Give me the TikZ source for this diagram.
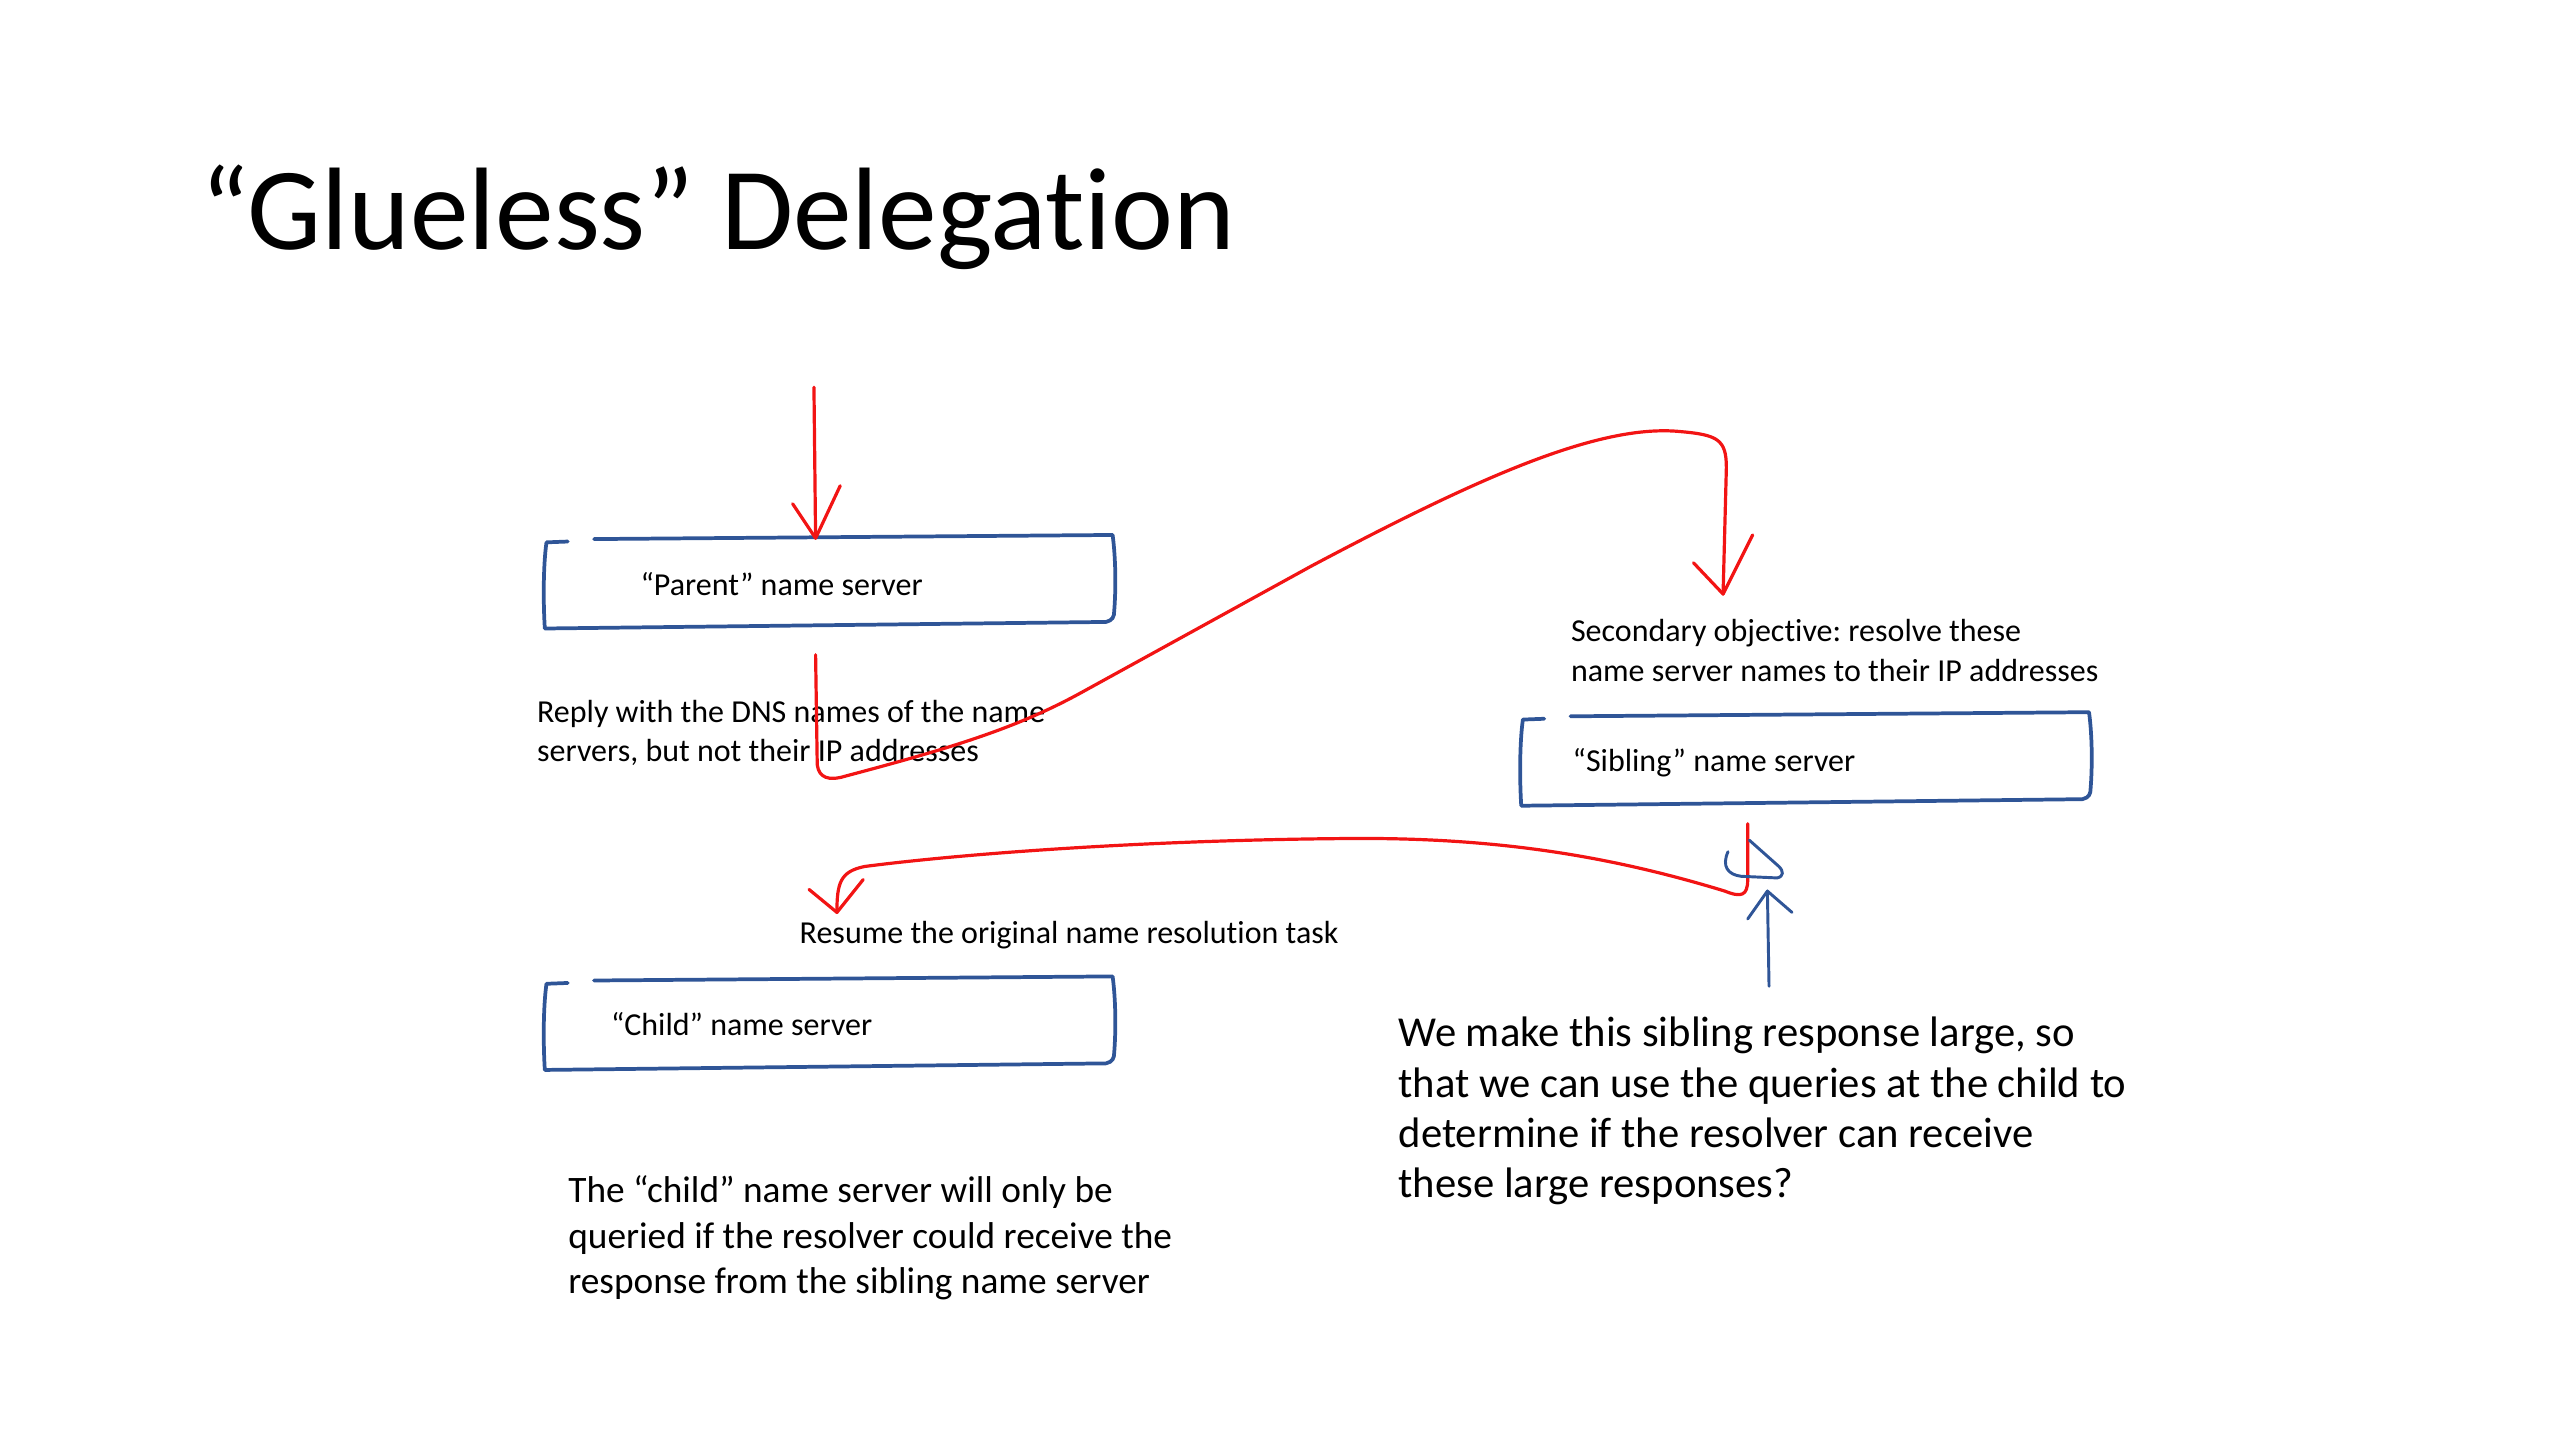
\documentclass[tikz,border=0pt]{standalone}
\usepackage{fontspec}
\setmainfont{Carlito}[Ligatures={NoCommon}]
\frenchspacing
\definecolor{penblue}{HTML}{2F5597}
\definecolor{penred}{HTML}{F21414}
\tikzset{
  boxpen/.style={draw=penblue, line width=1.4pt, line cap=round, line join=round},
  redpen/.style={draw=penred, line width=1.2pt, line cap=round, line join=round},
  bluepen/.style={draw=penblue, line width=1.1pt, line cap=round, line join=round},
  txt/.style={anchor=base west, inner sep=0pt, align=left, text=black},
  ttl/.style={txt, font={\fontsize{44}{53}\selectfont}},
  sm/.style={txt, font={\fontsize{12}{14.77}\selectfont}},
  md/.style={txt, font={\fontsize{14}{16.9}\selectfont}},
  lg/.style={txt, font={\fontsize{16}{18.9}\selectfont}},
  srvbox/.pic={
    \draw[boxpen] (15,3) -- (2,3.5) .. controls (0,18) and (0,40) .. (1,56)
      -- (343,52) .. controls (347,51) and (348,49) .. (348,45)
      .. controls (349,32) and (349,14) .. (347,-1) -- (31,1.5);
  }
}
\begin{document}
\begin{tikzpicture}[x=0.615385pt, y=-0.615385pt]
\useasboundingbox (0,0) rectangle (1560,877.5);

% title
\node[ttl] (title) at (122,152) {“Glueless” Delegation};

% boxes
\pic at (331,327) {srvbox};
\pic at (331,596) {srvbox};
\pic at (926,435) {srvbox};

% texts (multi-line nodes are placed by their last baseline)
\node[sm] (parent) at (390,363) {“Parent” name server};
\node[sm] (sibling) at (958,470) {“Sibling” name server};
\node[sm] (child) at (372,631) {“Child” name server};
\node[sm] (reply) at (327,464) {Reply with the DNS names of the name\\servers, but not their IP addresses};
\node[sm] (second) at (957,415) {Secondary objective: resolve these\\name server names to their IP addresses};
\node[sm] (resume) at (487,575) {Resume the original name resolution task};
\node[md] (only) at (346,788) {The “child” name server will only be\\queried if the resolver could receive the\\response from the sibling name server};
\node[lg] (large) at (852,730) {We make this sibling response large, so\\that we can use the queries at the child to\\determine if the resolver can receive\\these large responses?};

% coordinates for hand-drawn connectors
\coordinate (q0) at (496,236);
\coordinate (q1) at (497,328);
\coordinate (r0) at (497,399);
\coordinate (r1) at (1050,362);
\coordinate (s0) at (1065,502);
\coordinate (s1) at (510,556);
\coordinate (b0) at (1078,601);
\coordinate (b1) at (1077,543);

% query into parent
\draw[redpen] (q0) -- (q1);
\draw[redpen] (483,307) -- (q1) -- (512,296);

% reply -> sibling
\draw[redpen] (r0) -- (498,466) .. controls (499,474) and (505,476) .. (515,473)
  .. controls (579,456) and (619,444) .. (659,422)
  -- (799,345) .. controls (899,292) and (974,258) .. (1024,263)
  .. controls (1047,265) and (1052,268) .. (1052,285) -- (r1);
\draw[redpen] (1032,343) -- (r1) -- (1068,326);

% sibling -> child (resume)
\draw[redpen] (s0) -- (1065,536) .. controls (1065,546) and (1061,547) .. (1051,543)
  .. controls (979,521) and (909,510) .. (819,511)
  .. controls (699,512) and (589,520) .. (527,528)
  .. controls (512,531) and (510,538) .. (s1);
\draw[redpen] (493,542) -- (s1) -- (526,536);

% blue upward arrow with scribble
\draw[bluepen] (b0) -- (b1);
\draw[bluepen] (1065,560) -- (b1) -- (1092,556);
\draw[bluepen] (1053,519) .. controls (1049,528) and (1053,533) .. (1061,534)
  -- (1083,535) .. controls (1087,534) and (1087,531) .. (1084,528) -- (1066,512);
\end{tikzpicture}
\end{document}
